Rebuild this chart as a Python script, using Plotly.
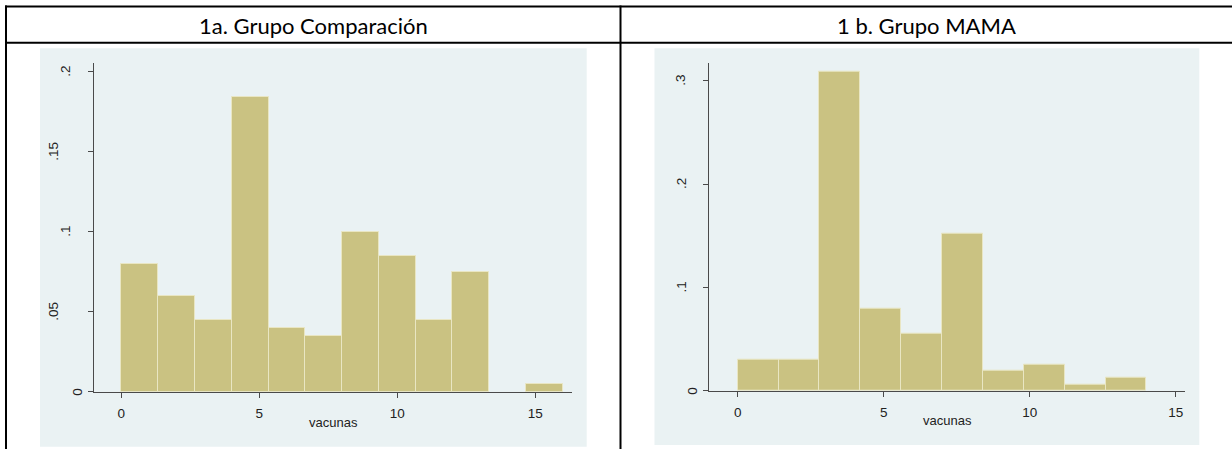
import plotly.graph_objects as go

# Histogram densities of number of vaccines ("vacunas") per group
comp_edges = [0, 4/3, 8/3, 4, 16/3, 20/3, 8, 28/3, 32/3, 12, 40/3, 44/3, 16]
comp_density = [0.08, 0.06, 0.045, 0.184, 0.04, 0.035, 0.10, 0.085, 0.045, 0.075, 0.0, 0.005]

mama_edges = [0, 1.4, 2.8, 4.2, 5.6, 7.0, 8.4, 9.8, 11.2, 12.6, 14.0]
mama_density = [0.03, 0.03, 0.309, 0.079, 0.055, 0.152, 0.019, 0.025, 0.006, 0.013]

panel_titles = ["1a. Grupo Comparación", "1 b. Grupo MAMA"]
x_ticks = [0, 5, 10, 15]
comp_y_ticks = [0, 0.05, 0.10, 0.15, 0.20]
comp_y_labels = ["0", ".05", ".1", ".15", ".2"]
mama_y_ticks = [0, 0.1, 0.2, 0.3]
mama_y_labels = ["0", ".1", ".2", ".3"]

W, H = 1232, 449
BAR = "#CAC282"
BAR_EDGE = "#E9E6C3"
PANEL = "#EAF2F3"
GRID = "#EAF2F3"
AXIS = "#4a4a4a"


def px(x):
    return x / W


def py(y):
    return 1 - y / H


def bars(edges, dens, xa, ya):
    centers = [(a + b) / 2 for a, b in zip(edges[:-1], edges[1:])]
    widths = [b - a for a, b in zip(edges[:-1], edges[1:])]
    outline = [1 if d > 0 else 0 for d in dens]
    return go.Bar(x=centers, y=dens, width=widths, xaxis=xa, yaxis=ya,
                  marker=dict(color=BAR, line=dict(color=BAR_EDGE, width=outline)),
                  showlegend=False, hoverinfo="skip")


fig = go.Figure()
fig.add_trace(bars(comp_edges, comp_density, "x", "y"))
fig.add_trace(bars(mama_edges, mama_density, "x2", "y2"))

tick_font = dict(family="Liberation Sans, Arial, sans-serif", size=13.5, color="#222")

common_x = dict(tickmode="array", tickvals=x_ticks, ticktext=[str(t) for t in x_ticks],
                showline=True, linecolor=AXIS, linewidth=1, ticks="outside",
                ticklen=5, tickcolor=AXIS, showgrid=False, zeroline=False,
                tickfont=tick_font, ticklabelstandoff=4, fixedrange=True)
common_y = dict(showline=True, linecolor=AXIS, linewidth=1, ticks="outside",
                ticklen=5, tickcolor=AXIS, showgrid=True, gridcolor=GRID,
                gridwidth=1, zeroline=False, showticklabels=False,
                tickmode="array", fixedrange=True)

left_axis_px, right_axis_px = 94, 709

fig.update_layout(
    width=W, height=H,
    margin=dict(l=0, r=0, t=0, b=0),
    paper_bgcolor="white", plot_bgcolor="white",
    bargap=0,
    xaxis=dict(domain=[px(left_axis_px), px(571.7)], range=[-0.99, 16.32],
               anchor="y", **common_x),
    yaxis=dict(domain=[py(391.7), py(63)], range=[0, 0.2054], anchor="x",
               tickvals=comp_y_ticks, **common_y),
    xaxis2=dict(domain=[px(right_axis_px), px(1185)], range=[-0.983, 15.32],
                anchor="y2", **common_x),
    yaxis2=dict(domain=[py(390.7), py(62.7)], range=[0, 0.3175], anchor="x2",
                tickvals=mama_y_ticks, **common_y),
)

shapes = []
# grey graph regions behind each plot
shapes.append(dict(type="rect", xref="paper", yref="paper", layer="below",
                   x0=px(40), x1=px(586.7), y0=py(446.7), y1=py(48.3),
                   fillcolor=PANEL, line=dict(width=0)))
shapes.append(dict(type="rect", xref="paper", yref="paper", layer="below",
                   x0=px(654.5), x1=px(1199.3), y0=py(445), y1=py(48.3),
                   fillcolor=PANEL, line=dict(width=0)))
# table borders
line = dict(color="black", width=2)
shapes.append(dict(type="line", xref="paper", yref="paper",
                   x0=px(5), x1=px(1232), y0=py(6.5), y1=py(6.5), line=line))
shapes.append(dict(type="line", xref="paper", yref="paper",
                   x0=px(5), x1=px(1232), y0=py(42.7), y1=py(42.7), line=line))
shapes.append(dict(type="line", xref="paper", yref="paper",
                   x0=px(6), x1=px(6), y0=py(5.5), y1=py(449), line=line))
shapes.append(dict(type="line", xref="paper", yref="paper",
                   x0=px(620.5), x1=px(620.5), y0=py(5.5), y1=py(449), line=line))
fig.update_layout(shapes=shapes)

head_font = dict(family="Lato, Open Sans, sans-serif", size=22, color="black")
title_font = dict(family="Liberation Sans, Arial, sans-serif", size=13, color="#222")
annotations = [
    dict(text=panel_titles[0], x=px(313), y=py(25), xref="paper", yref="paper",
         showarrow=False, font=head_font, xanchor="center", yanchor="middle"),
    dict(text=panel_titles[1], x=px(926), y=py(25), xref="paper", yref="paper",
         showarrow=False, font=head_font, xanchor="center", yanchor="middle"),
    dict(text="vacunas", x=px(333), y=py(422), xref="paper", yref="paper",
         showarrow=False, font=title_font, xanchor="center", yanchor="middle"),
    dict(text="vacunas", x=px(947), y=py(420), xref="paper", yref="paper",
         showarrow=False, font=title_font, xanchor="center", yanchor="middle"),
]

# vertical y tick labels; longer labels sit further from the axis
for vals, labels, axis_px, yref in [(comp_y_ticks, comp_y_labels, left_axis_px, "y"),
                                    (mama_y_ticks, mama_y_labels, right_axis_px, "y2")]:
    for v, lab in zip(vals, labels):
        annotations.append(dict(text=lab, x=px(axis_px - 4 - 12 * len(lab)), y=v,
                                xref="paper", yref=yref, textangle=-90,
                                showarrow=False, font=tick_font,
                                xanchor="center", yanchor="middle"))
fig.update_layout(annotations=annotations)

fig.write_html("out.html", config={"displayModeBar": False})
